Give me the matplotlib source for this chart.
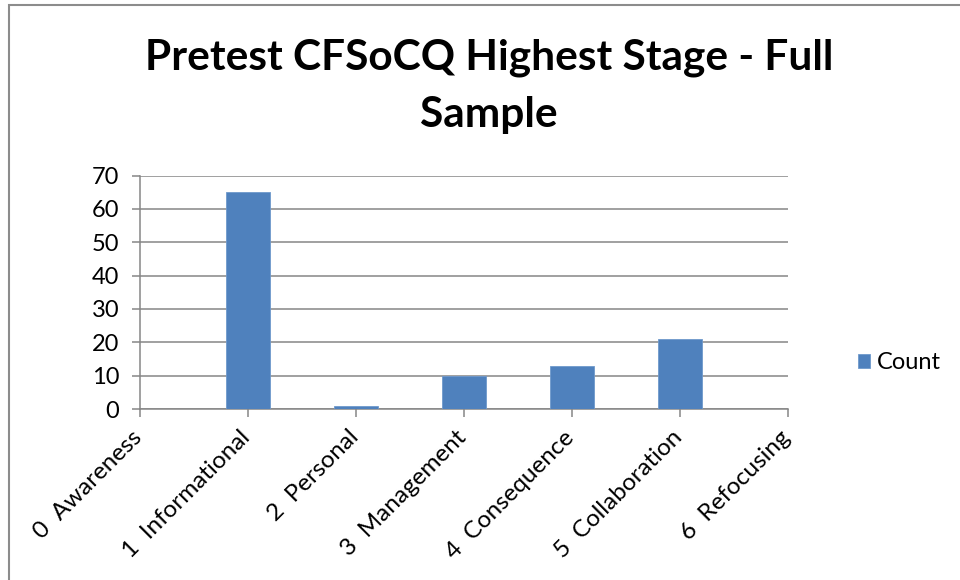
import matplotlib.pyplot as plt
from matplotlib.patches import Rectangle
from matplotlib.transforms import ScaledTranslation
import numpy as np

stages = ['0  Awareness', '1  Informational', '2  Personal', '3  Management',
          '4  Consequence', '5  Collaboration', '6  Refocusing']
counts = [0, 65, 1, 10, 13, 21, 0]

bar_color = '#4F81BD'
grid_color = '#868686'
plt.rcParams['font.family'] = ['Lato', 'DejaVu Sans']

fig = plt.figure(figsize=(9.6, 5.8), dpi=100)
ax = fig.add_axes([140/960, 1-409/580, 648/960, 233.5/580])

x = np.arange(len(stages))
ax.bar(x, counts, width=0.4, color=bar_color, edgecolor='#6F99CC',
       linewidth=0.6, label='Count', zorder=3)

ax.set_xlim(0, 6)
ax.set_ylim(0, 70)
ax.set_yticks(range(0, 71, 10))
ax.set_xticks(x)
ax.set_xticklabels([])
ax.tick_params(axis='y', labelsize=17, length=6, width=1.1, color=grid_color, pad=9)
ax.tick_params(axis='x', length=6, width=1.1, color=grid_color)

# slanted category labels, finishing just under each tick
lbl_tr = ax.get_xaxis_transform() + ScaledTranslation(-1/100, -25/100, fig.dpi_scale_trans)
for i, name in zip(x, stages):
    ax.text(i, 0, name, transform=lbl_tr, rotation=45, ha='right', va='center',
            rotation_mode='anchor', fontsize=17.5)

ax.yaxis.grid(True, color=grid_color, linewidth=1.1, zorder=0)
ax.set_axisbelow(True)
for s in ['top', 'right']:
    ax.spines[s].set_visible(False)
for s in ['left', 'bottom']:
    ax.spines[s].set_color(grid_color)
    ax.spines[s].set_linewidth(1.1)

# two-line title
fig.text(489/960, 1-58/580, 'Pretest CFSoCQ Highest Stage - Full',
         ha='center', va='center', fontsize=30.5, fontweight='bold')
fig.text(489/960, 1-115/580, 'Sample',
         ha='center', va='center', fontsize=30.5, fontweight='bold')

fig.legend(loc='center left', bbox_to_anchor=(849/960, 1-363/580), frameon=False,
           fontsize=17, handlelength=0.5, handleheight=0.5, handletextpad=0.3,
           borderaxespad=0)

# chart area outline
fig.patches.append(Rectangle((9/960, -0.1), 1.2, 0.1 + 1-5/580,
                             transform=fig.transFigure, fill=False,
                             edgecolor='#8C8C8C', linewidth=1.5))

fig.savefig('out.png', dpi=100)
